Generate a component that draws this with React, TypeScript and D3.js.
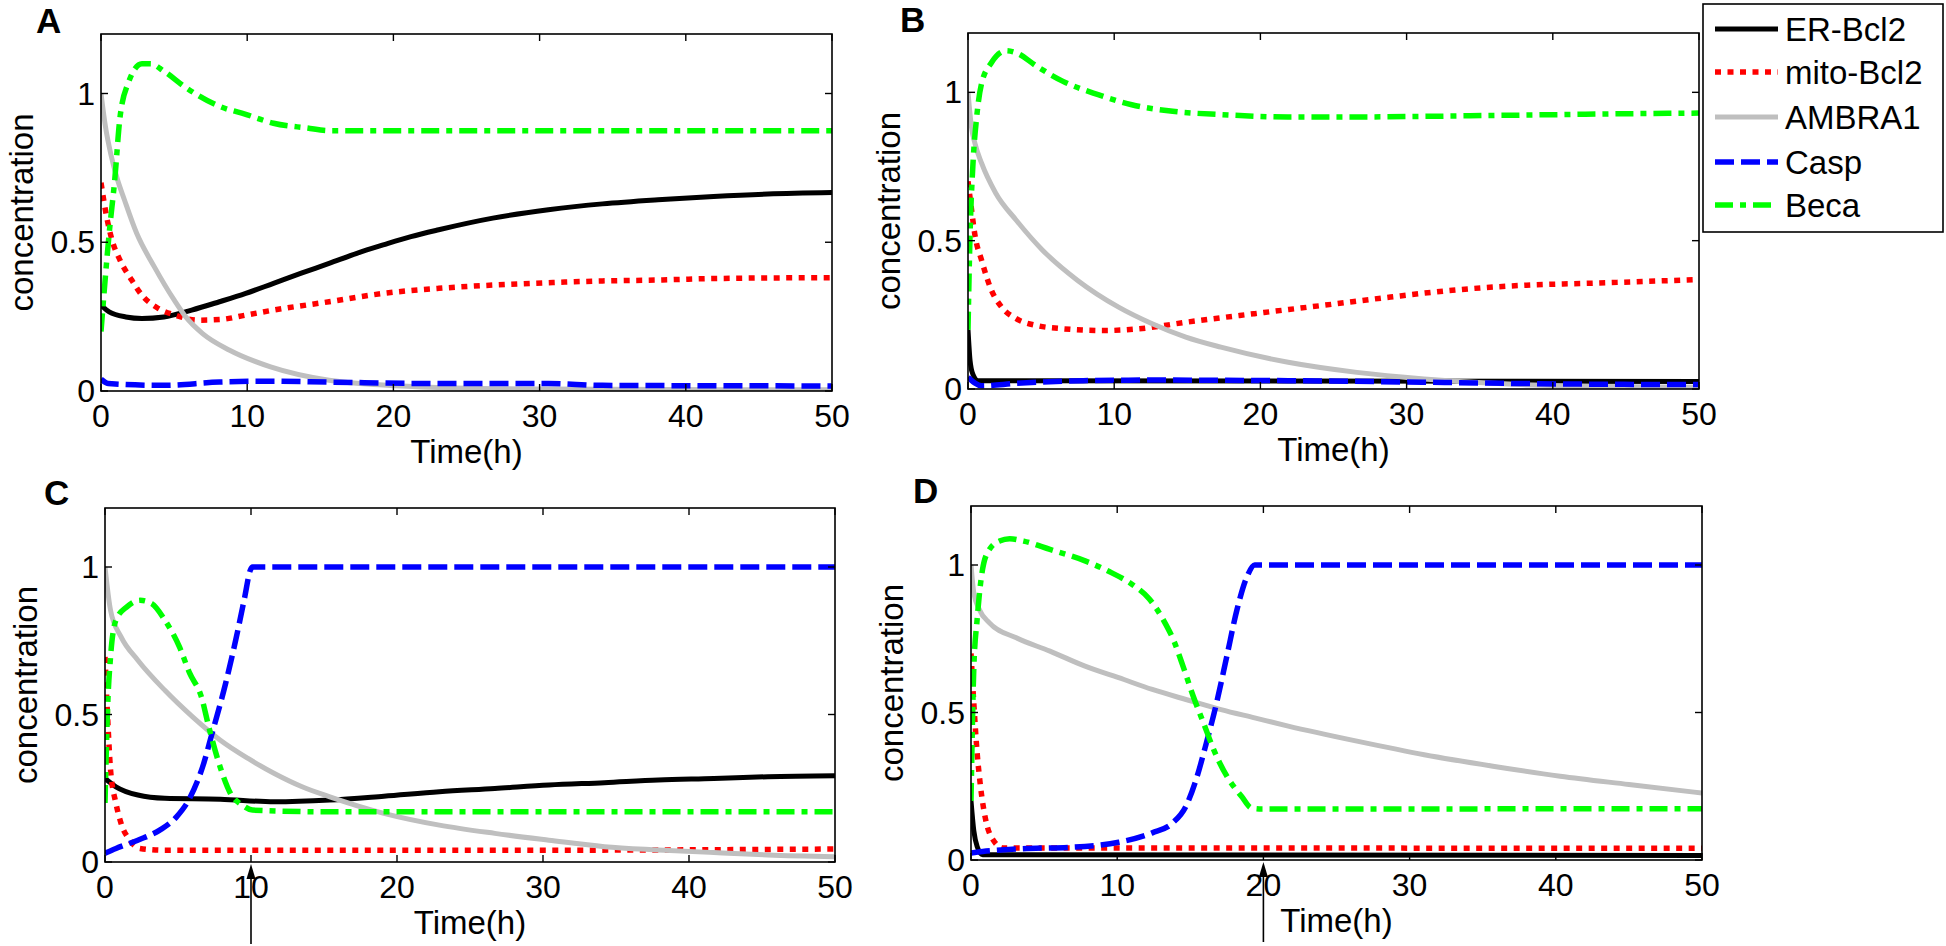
import React from 'react';
import * as d3 from 'd3';

type Pt = [number, number];

const seriesNames = ['ER-Bcl2', 'mito-Bcl2', 'AMBRA1', 'Casp', 'Beca'];
const seriesColors = ['#000000', '#ff0000', '#bfbfbf', '#0000ff', '#00ff00'];
const seriesDash = ['none', '6,6.5', 'none', '19,7', '18,7,6,7'];
const panelLetters = ['A', 'B', 'C', 'D'];
const xTickValues = [0, 10, 20, 30, 40, 50];
const xTickLabels = ['0', '10', '20', '30', '40', '50'];
const yTickValues = [0, 0.5, 1];
const yTickLabels = ['0', '0.5', '1'];
const arrowTimes: (number | null)[] = [null, null, 10, 20];
const xLabel = 'Time(h)';
const yLabel = 'concentration';

// Panel A
const aER: Pt[] = [[0,0.289],[0.56,0.266],[1.7,0.249],[2.8,0.244],[4.3,0.249],[6.2,0.272],[8.1,0.3],[9.9,0.328],[11.8,0.362],[13.7,0.396],[15.6,0.429],[17.5,0.463],[19.3,0.491],[21.2,0.519],[23.1,0.542],[26.8,0.581],[30.6,0.609],[34.3,0.629],[38.1,0.643],[41.9,0.654],[45.6,0.662],[50,0.667]];
const aMito: Pt[] = [[0,0.7],[0.38,0.587],[0.75,0.508],[1.3,0.44],[2.1,0.373],[2.8,0.322],[3.9,0.278],[5.1,0.255],[6.6,0.238],[8.1,0.24],[9.9,0.255],[11.8,0.272],[15.6,0.3],[19.3,0.328],[23.1,0.345],[26.8,0.356],[30.6,0.364],[34.3,0.37],[38.1,0.373],[41.9,0.378],[50,0.381]];
const aAmbra: Pt[] = [[0,1],[0.3,0.89],[0.7,0.79],[1.1,0.715],[1.6,0.643],[2.44,0.53],[3.64,0.418],[5.0,0.306],[5.8,0.249],[6.95,0.193],[8.8,0.137],[11.6,0.081],[15.6,0.036],[19.3,0.02],[23,0.012],[30,0.007],[50,0.004]];
const aCasp: Pt[] = [[0,0.04],[0.5,0.025],[4.3,0.019],[8.1,0.03],[11.8,0.033],[15.6,0.03],[23.1,0.025],[30.6,0.025],[34.3,0.019],[50,0.017]];
const aBeca: Pt[] = [[0,0.2],[0.56,0.53],[0.94,0.71],[1.3,0.92],[1.9,1.04],[2.8,1.1],[3.4,1.1],[4.3,1.075],[5.8,1.02],[8.1,0.957],[9.9,0.93],[11.8,0.9],[14.1,0.884],[15.6,0.875],[50,0.875]];

// Panel B
const bER: Pt[] = [[0,0.2],[0.14,0.096],[0.33,0.05],[0.7,0.028],[50,0.025]];
const bMito: Pt[] = [[0,0.7],[0.23,0.61],[0.47,0.52],[0.93,0.434],[1.6,0.333],[2.3,0.276],[3.3,0.237],[4.7,0.214],[6.5,0.203],[9.3,0.197],[11.7,0.203],[14.9,0.225],[19.6,0.254],[24.3,0.282],[28.9,0.31],[33.6,0.335],[38.2,0.35],[42.9,0.357],[50,0.369]];
const bAmbra: Pt[] = [[0,1],[0.23,0.885],[0.47,0.829],[0.93,0.761],[1.9,0.66],[3.3,0.569],[5.1,0.468],[7.5,0.366],[10.3,0.276],[12.6,0.22],[14.9,0.175],[17.3,0.141],[21.9,0.09],[26.6,0.056],[31.2,0.034],[35.9,0.019],[40.6,0.011],[50,0.006]];
const bCasp: Pt[] = [[0,0.04],[0.93,0.011],[3.3,0.019],[7.9,0.028],[12.6,0.03],[21.9,0.028],[31.2,0.023],[40.6,0.017],[50,0.015]];
const bBeca: Pt[] = [[0,0.2],[0.14,0.52],[0.33,0.75],[0.6,0.92],[0.93,1.03],[1.6,1.1],[2.6,1.14],[3.3,1.133],[4.7,1.088],[6.5,1.037],[8.9,0.992],[11.2,0.958],[14,0.936],[17.3,0.925],[21.9,0.917],[26.6,0.917],[31.2,0.919],[35.9,0.922],[40.6,0.925],[45.2,0.928],[50,0.93]];

// Panel C
const cER: Pt[] = [[0,0.283],[0.75,0.255],[2.25,0.227],[4.1,0.216],[7.9,0.213],[11.6,0.204],[15.4,0.21],[19.1,0.223],[22.9,0.238],[26.7,0.249],[30.4,0.261],[34.2,0.269],[37.9,0.278],[41.7,0.283],[45.4,0.289],[50,0.292]];
const cMito: Pt[] = [[0,0.695],[0.19,0.48],[0.38,0.312],[0.75,0.199],[1.1,0.131],[1.7,0.074],[2.4,0.046],[4.1,0.04],[30,0.04],[50,0.044]];
const cAmbra: Pt[] = [[0,1],[0.38,0.853],[1.1,0.763],[2.25,0.684],[4.1,0.582],[6,0.492],[7.9,0.413],[9.8,0.351],[11.6,0.3],[13.5,0.255],[15.4,0.221],[19.1,0.165],[22.9,0.125],[26.7,0.097],[30.4,0.074],[34.2,0.052],[37.9,0.041],[41.7,0.032],[45.4,0.024],[50,0.018]];
const cCasp: Pt[] = [[0,0.03],[0.75,0.046],[2.25,0.074],[3.75,0.108],[4.9,0.153],[5.8,0.216],[6.76,0.334],[7.3,0.43],[8.26,0.605],[9,0.763],[9.57,0.898],[9.95,0.989],[10.1,1],[50,1]];
const cBeca: Pt[] = [[0,0.2],[0.19,0.537],[0.38,0.695],[0.75,0.82],[1.5,0.865],[2.4,0.887],[3.2,0.876],[4.1,0.82],[5.1,0.729],[5.8,0.64],[6.6,0.56],[7.1,0.46],[7.9,0.32],[8.6,0.232],[9.4,0.193],[10.1,0.176],[15.4,0.17],[50,0.17]];

// Panel D
const dER: Pt[] = [[0,0.2],[0.19,0.1],[0.42,0.046],[0.8,0.018],[50,0.015]];
const dMito: Pt[] = [[0,0.7],[0.19,0.533],[0.42,0.363],[0.65,0.25],[1.0,0.137],[1.5,0.069],[2.2,0.041],[50,0.04]];
const dAmbra: Pt[] = [[0,1],[0.19,0.906],[0.56,0.85],[1.26,0.804],[3.1,0.753],[5.4,0.708],[7.8,0.657],[10.1,0.618],[12.4,0.578],[14.7,0.544],[17.1,0.51],[19.4,0.482],[21.7,0.454],[26.4,0.403],[31,0.357],[35.7,0.318],[40.3,0.284],[45,0.256],[50,0.227]];
const dCasp: Pt[] = [[0,0.024],[0.8,0.029],[3.1,0.037],[7.8,0.046],[10.1,0.06],[12.4,0.092],[13.8,0.126],[14.7,0.182],[15.4,0.273],[16.1,0.397],[16.8,0.533],[17.5,0.691],[18.2,0.85],[18.9,0.963],[19.4,1],[50,1]];
const dBeca: Pt[] = [[0,0.2],[0.19,0.646],[0.42,0.816],[0.79,0.985],[1.26,1.053],[1.95,1.081],[2.65,1.089],[3.6,1.081],[5.4,1.053],[7.8,1.014],[9.6,0.974],[11.0,0.935],[12.2,0.885],[13.2,0.81],[13.9,0.74],[14.5,0.657],[15.2,0.555],[15.9,0.465],[16.6,0.374],[17.5,0.284],[18.5,0.216],[19.2,0.176],[19.9,0.173],[50,0.174]];

const panelSeries: Pt[][][] = [
  [aER, aMito, aAmbra, aCasp, aBeca],
  [bER, bMito, bAmbra, bCasp, bBeca],
  [cER, cMito, cAmbra, cCasp, cBeca],
  [dER, dMito, dAmbra, dCasp, dBeca],
];

const boxes = [
  { l: 101, r: 832, t: 34, b: 391, lx: 36, ly: 33 },
  { l: 968, r: 1699, t: 33, b: 389, lx: 900, ly: 32 },
  { l: 105, r: 835, t: 508, b: 862, lx: 44, ly: 505 },
  { l: 971, r: 1702, t: 506, b: 860, lx: 913, ly: 503 },
];

const FONT = '"Liberation Sans", Arial, Helvetica, sans-serif';
const widths = [5, 5.5, 5, 5.5, 5.5];

function Panel({ idx }: { idx: number }) {
  const bx = boxes[idx];
  const x = d3.scaleLinear().domain([0, 50]).range([bx.l, bx.r]);
  const y = d3.scaleLinear().domain([0, 1.2]).range([bx.b, bx.t]);
  const line = d3.line<Pt>().x(d => x(d[0])).y(d => y(d[1])).curve(d3.curveMonotoneX);
  const tl = 7;
  const arrowT = arrowTimes[idx];
  return (
    <g>
      <defs>
        <clipPath id={`clip${idx}`}>
          <rect x={bx.l} y={bx.t} width={bx.r - bx.l} height={bx.b - bx.t} />
        </clipPath>
      </defs>
      <g clipPath={`url(#clip${idx})`}>
        {panelSeries[idx].map((s, i) => (
          <path key={i} d={line(s) || ''} fill="none" stroke={seriesColors[i]}
            strokeWidth={widths[i]} strokeDasharray={seriesDash[i]} strokeLinejoin="round" />
        ))}
      </g>
      <rect x={bx.l} y={bx.t} width={bx.r - bx.l} height={bx.b - bx.t} fill="none" stroke="#000" strokeWidth={1.6} />
      {xTickValues.map((v, i) => (
        <g key={'xt' + i}>
          <line x1={x(v)} x2={x(v)} y1={bx.b} y2={bx.b - tl} stroke="#000" strokeWidth={1.4} />
          <line x1={x(v)} x2={x(v)} y1={bx.t} y2={bx.t + tl} stroke="#000" strokeWidth={1.4} />
          <text x={x(v)} y={bx.b + 36} textAnchor="middle" fontFamily={FONT} fontSize={32}>{xTickLabels[i]}</text>
        </g>
      ))}
      {yTickValues.map((v, i) => (
        <g key={'yt' + i}>
          <line x1={bx.l} x2={bx.l + tl} y1={y(v)} y2={y(v)} stroke="#000" strokeWidth={1.4} />
          <line x1={bx.r} x2={bx.r - tl} y1={y(v)} y2={y(v)} stroke="#000" strokeWidth={1.4} />
          <text x={bx.l - 6} y={y(v) + 11} textAnchor="end" fontFamily={FONT} fontSize={32}>{yTickLabels[i]}</text>
        </g>
      ))}
      <text x={(bx.l + bx.r) / 2} y={bx.b + 72} textAnchor="middle" fontFamily={FONT} fontSize={33}>{xLabel}</text>
      <text transform={`translate(${bx.l - 68},${(bx.t + bx.b) / 2}) rotate(-90)`} textAnchor="middle"
        fontFamily={FONT} fontSize={33}>{yLabel}</text>
      <text x={bx.lx} y={bx.ly} fontFamily={FONT} fontWeight="bold" fontSize={35}>{panelLetters[idx]}</text>
      {arrowT !== null && (
        <g>
          <line x1={x(arrowT)} x2={x(arrowT)} y1={bx.b + 14} y2={bx.b + 82} stroke="#000" strokeWidth={1.6} />
          <path d={`M${x(arrowT)},${bx.b + 2} L${x(arrowT) - 4.5},${bx.b + 17} L${x(arrowT) + 4.5},${bx.b + 17} Z`} fill="#000" />
        </g>
      )}
    </g>
  );
}

function Legend() {
  const lx = 1703, ly = 4, lw = 240, lh = 228;
  const rows = [29, 72, 117, 162, 205];
  return (
    <g>
      <rect x={lx} y={ly} width={lw} height={lh} fill="#fff" stroke="#000" strokeWidth={1.6} />
      {seriesNames.map((n, i) => (
        <g key={n}>
          <line x1={1715} x2={1778} y1={rows[i]} y2={rows[i]} stroke={seriesColors[i]}
            strokeWidth={widths[i]} strokeDasharray={seriesDash[i]} />
          <text x={1785} y={rows[i] + 12} fontFamily={FONT} fontSize={33}>{n}</text>
        </g>
      ))}
    </g>
  );
}

export default function App() {
  return (
    <svg width={1946} height={946} style={{ position: 'absolute', left: 0, top: 0, background: '#fff' }}>
      <rect x={0} y={0} width={1946} height={946} fill="#fff" />
      {[0, 1, 2, 3].map(i => <Panel key={i} idx={i} />)}
      <Legend />
    </svg>
  );
}
